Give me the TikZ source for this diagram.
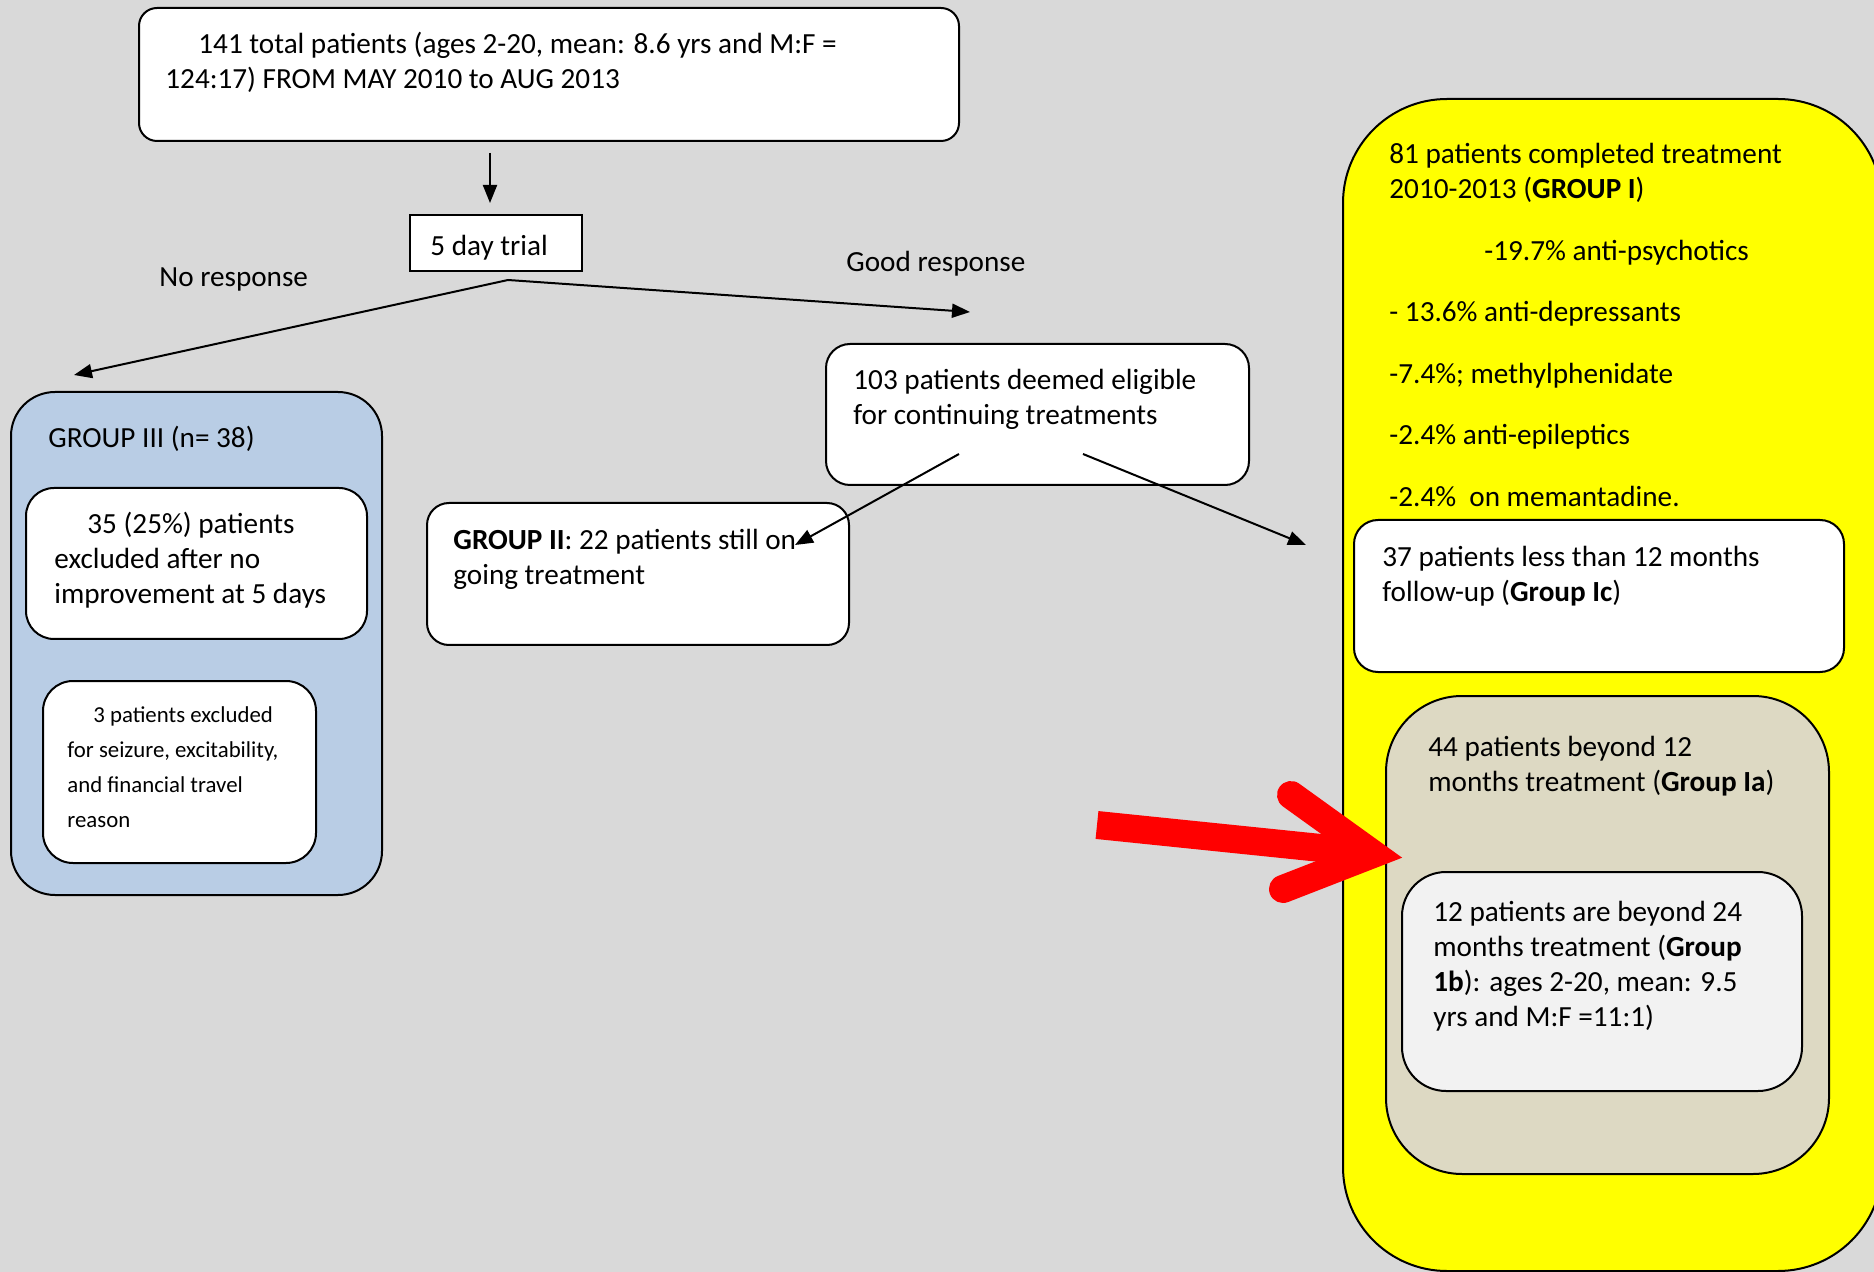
\documentclass[tikz,border=0pt]{standalone}
\usepackage{fontspec}
\setmainfont{Carlito}
\usetikzlibrary{fit,arrows.meta}
\definecolor{bgc}{RGB}{217,217,217}
\definecolor{gthree}{RGB}{185,205,229}
\definecolor{tanc}{RGB}{221,217,195}
\definecolor{paleg}{RGB}{242,242,242}
\definecolor{yel}{RGB}{255,255,0}
\newcommand\fmain{\fontsize{14.6}{17.5}\selectfont}
\newcommand\fsmall{\fontsize{11.4}{17.5}\selectfont}
\begin{document}
\begin{tikzpicture}[x=0.5pt,y=-0.5pt,
  box/.style={draw=black, line width=1pt, fill=white, inner sep=0pt, rounded corners=#1},
  box/.default=12pt,
  txt/.style={anchor=north west, inner sep=0pt, align=left, font=\fmain},
  arr/.style={-{Triangle[length=9pt,width=7pt]}, line width=1pt},
  redarrow/.style={draw=red, line width=14pt}
]
\useasboundingbox (0,0) rectangle (1874,1272);
\fill[bgc] (0,0) rectangle (1874,1272);

% top
\node[box=9pt, fit={(139,8) (959,141)}] (top) {};
\node[txt] (ttop) at (165,28.5) {\strut\hspace*{16.5pt}141 total patients (ages 2-20, mean: 8.6 yrs and M:F =\\124:17) FROM MAY 2010 to AUG 2013};

% trial
\node[box=0pt, fit={(410,215) (582,271)}] (trial) {};
\node[txt] (ttrial) at (430,230.5) {\strut 5 day trial};

\node[txt] (nores) at (159,261.5) {\strut No response};
\node[txt] (gres) at (846,246.5) {\strut Good response};

% group III
\node[box=22pt, fill=gthree, fit={(11,392) (382,895)}] (g3) {};
\node[txt] (tg3) at (48,422.5) {\strut GROUP III (n= 38)};
\node[box=14pt, fit={(26,488) (367,639)}] (b35) {};
\node[txt] (tb35) at (54,508.5) {\strut\hspace*{16.5pt}35 (25\%) patients\\excluded after no\\improvement at 5 days};
\node[box=15pt, fit={(43,681) (316,863)}] (b3) {};
\node[txt, font=\fsmall] (tb3) at (67,697.5) {\strut\hspace*{13pt}3 patients excluded\\for seizure, excitability,\\and financial travel\\reason};

% group II
\node[box=11pt, fit={(427,503) (849,645)}] (g2) {};
\node[txt] (tg2) at (453,524.5) {\strut\textbf{GROUP II}: 22 patients still on\\going treatment};

% 103
\node[box=12pt, fit={(826,344) (1249,485)}] (b103) {};
\node[txt] (tb103) at (853,364.5) {\strut 103 patients deemed eligible\\for continuing treatments};

% group I
\node[box=52pt, fill=yel, fit={(1343,99) (1882,1271)}] (g1) {};
\node[txt] (tg1) at (1389,138.5) {\strut 81 patients completed treatment\\2010-2013 (\textbf{GROUP I})};
\node[txt] (l1) at (1484,235.5) {\strut -19.7\% anti-psychotics};
\node[txt] (l2) at (1389,296.5) {\strut - 13.6\% anti-depressants};
\node[txt] (l3) at (1389,358.5) {\strut -7.4\%; methylphenidate};
\node[txt] (l4) at (1389,419.5) {\strut -2.4\% anti-epileptics};
\node[txt] (l5) at (1389,481.5) {\strut -2.4\%\ \ on memantadine.};

\node[box=12pt, fit={(1354,520) (1844,672)}] (g1c) {};
\node[txt] (tg1c) at (1382,541.5) {\strut 37 patients less than 12 months\\follow-up (\textbf{Group Ic})};

\node[box=38pt, fill=tanc, fit={(1386,696) (1829,1174)}] (g1a) {};
\node[txt] (tg1a) at (1428,731.5) {\strut 44 patients beyond 12\\months treatment (\textbf{Group Ia})};

\node[box=22pt, fill=paleg, fit={(1402,872) (1802,1091)}] (g1b) {};
\node[txt] (tg1b) at (1433,896.5) {\strut 12 patients are beyond 24\\months treatment (\textbf{Group}\\\textbf{1b}): ages 2-20, mean: 9.5\\yrs and M:F =11:1)};

% connectors
\draw[arr, shorten <=5.5pt, shorten >=5.5pt] ([xshift=-3pt]trial.north |- top.south) -- ([xshift=-3pt]trial.north);
\coordinate (split) at (508,280);
\coordinate (noend) at (74,375);
\coordinate (goodend) at (970,312);
\draw[arr] (split) -- (noend);
\draw[arr] (split) -- (goodend);
\coordinate (s103a) at (959,454);
\coordinate (s103b) at (1083,454);
\coordinate (e2) at (795,545);
\coordinate (e1) at (1306,545);
\draw[arr] (s103a) -- (e2);
\draw[arr] (s103b) -- (e1);

% red arrow
\coordinate (rs) at (1097,825);
\coordinate (rj) at (1350,851);
\coordinate (rt) at (1373,854);
\coordinate (ru) at (1291,795);
\coordinate (rl) at (1283,889);
\draw[redarrow] (rs) -- (rj);
\draw[redarrow, line cap=round, line join=miter] (ru) -- (rt) -- (rl);
\end{tikzpicture}
\end{document}
